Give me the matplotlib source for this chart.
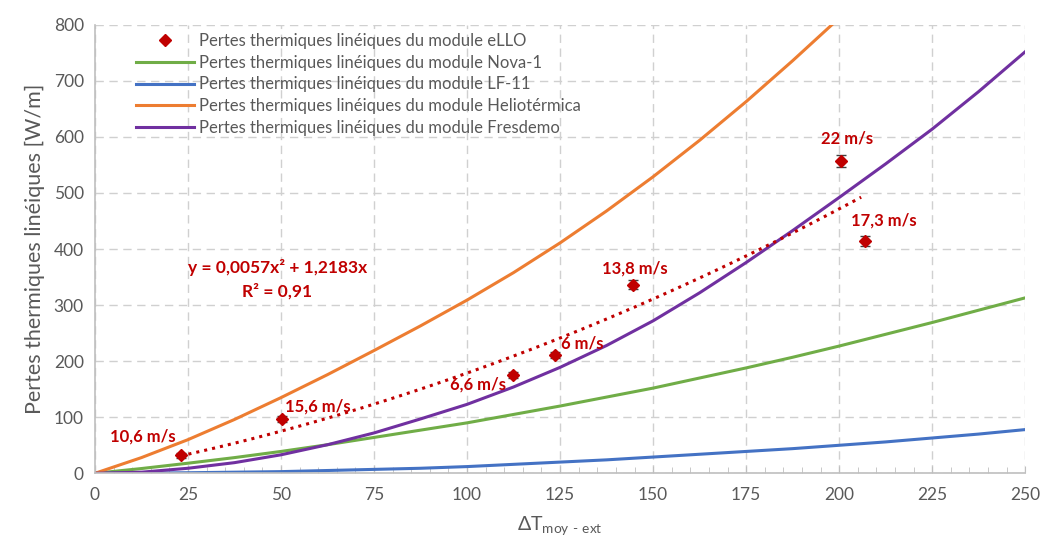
"""
Pertes thermiques linéiques : mesures eLLO vs modules de référence
"""
import numpy as np
import matplotlib.pyplot as plt
from matplotlib.ticker import MultipleLocator

# Mesures eLLO (ΔT, pertes, incertitude, vitesse du vent)
dT_mes = [23.0, 50.2, 112.3, 123.7, 144.7, 200.5, 206.9]
pertes_mes = [32, 97, 175, 211, 336, 557, 415]
err_mes = [4, 5, 5, 6, 8, 11, 9]
vent_labels = ["10,6 m/s", "15,6 m/s", "6,6 m/s", "6 m/s", "13,8 m/s", "22 m/s", "17,3 m/s"]
# position des étiquettes (x, y) en coordonnées données
vent_pos = [(13, 66), (60, 120), (103, 158), (131, 231), (145, 366), (202, 598), (212, 451)]

# Courbe de tendance affichée dans le graphique
trend_coefs = [0.0057, 1.2183, 0.0]

# Modules de référence (pas de 12,5)
dT_mod = [0, 12.5, 25, 37.5, 50, 62.5, 75, 87.5, 100, 112.5, 125, 137.5,
          150, 162.5, 175, 187.5, 200, 212.5, 225, 237.5, 250]
nova1 = [0, 8.5, 18, 28, 39, 51, 64, 77, 90, 105, 120, 136,
         152, 170, 188, 207, 227, 248, 269, 291, 313]
lf11 = [0, 0.3, 1, 2, 3, 5, 7, 9, 12, 16, 20, 24,
        29, 34, 39, 44, 50, 56, 63, 70, 78]
fresdemo = [0, 2, 9, 19, 33, 51, 72, 97, 123, 154, 189, 228,
            272, 322, 376, 433, 492, 552, 614, 681, 752]
dT_helio = [0, 12.5, 25, 37.5, 50, 62.5, 75, 87.5, 100, 112.5, 125, 137.5,
            150, 162.5, 175, 187.5, 200]
helio = [0, 28, 60, 96, 135, 176, 219, 263, 309, 358, 411, 468,
         529, 594, 663, 736, 812]

plt.rcParams['font.family'] = ['Lato', 'DejaVu Sans']
rouge = '#C00000'
gris = '#595959'

fig = plt.figure(figsize=(10.43, 5.51), dpi=100)
ax = fig.add_axes([0.091, 0.141, 0.892, 0.814])

ax.plot(dT_mes, pertes_mes, 'D', color=rouge, markersize=6,
        label="Pertes thermiques linéiques du module eLLO", zorder=5)
ax.errorbar(dT_mes, pertes_mes, yerr=err_mes, fmt='none', ecolor='#404040',
            elinewidth=1, capsize=3.5, zorder=4)
ax.plot(dT_mod, nova1, color='#70AD47', lw=2.2,
        label="Pertes thermiques linéiques du module Nova-1")
ax.plot(dT_mod, lf11, color='#4472C4', lw=2.2,
        label="Pertes thermiques linéiques du module LF-11")
ax.plot(dT_helio, helio, color='#ED7D31', lw=2.2,
        label="Pertes thermiques linéiques du module Heliotérmica")
ax.plot(dT_mod, fresdemo, color='#7030A0', lw=2.2,
        label="Pertes thermiques linéiques du module Fresdemo")

# tendance polynomiale (pointillés)
xt = np.linspace(min(dT_mes), max(dT_mes) - 1, 100)
ax.plot(xt, np.polyval(trend_coefs, xt), ':', color=rouge, lw=2.2, zorder=3)

for lab, (x, y) in zip(vent_labels, vent_pos):
    ax.text(x, y, lab, color=rouge, fontsize=12, fontweight='bold',
            ha='center', va='center')

ax.text(49, 367, "y = 0,0057x² + 1,2183x", color=rouge, fontsize=12.5,
        fontweight='bold', ha='center', va='center')
ax.text(49, 324, "R² = 0,91", color=rouge, fontsize=12.5,
        fontweight='bold', ha='center', va='center')

ax.set_xlim(0, 250)
ax.set_ylim(0, 800)
ax.xaxis.set_major_locator(MultipleLocator(25))
ax.xaxis.set_minor_locator(MultipleLocator(5))
ax.yaxis.set_major_locator(MultipleLocator(100))
ax.grid(True, color='#D0D0D0', ls=(0, (6, 4)), lw=1)
ax.set_axisbelow(True)

for s in ['top', 'right']:
    ax.spines[s].set_visible(False)
for s in ['left', 'bottom']:
    ax.spines[s].set_color('#BFBFBF')
    ax.spines[s].set_linewidth(1.2)

ax.tick_params(axis='x', which='both', direction='in', color='#BFBFBF',
               labelcolor=gris, labelsize=12.5, pad=10)
ax.tick_params(axis='x', which='major', length=5)
ax.tick_params(axis='x', which='minor', length=4)
ax.tick_params(axis='y', length=0, labelcolor=gris, labelsize=12.5, pad=8)

ax.set_ylabel("Pertes thermiques linéiques [W/m]", fontsize=15.5, color=gris,
              labelpad=6)
ax.set_xlabel("ΔT$_{\\mathregular{moy\\ \u2010\\ ext}}$", fontsize=14, color=gris,
              labelpad=8)

leg = ax.legend(loc='upper left', bbox_to_anchor=(0.035, 1.0), frameon=False,
                fontsize=12, labelspacing=0.34, handlelength=3.5,
                handletextpad=0.3, borderaxespad=0.1)
for t in leg.get_texts():
    t.set_color(gris)

fig.savefig('out.png', dpi=100)
